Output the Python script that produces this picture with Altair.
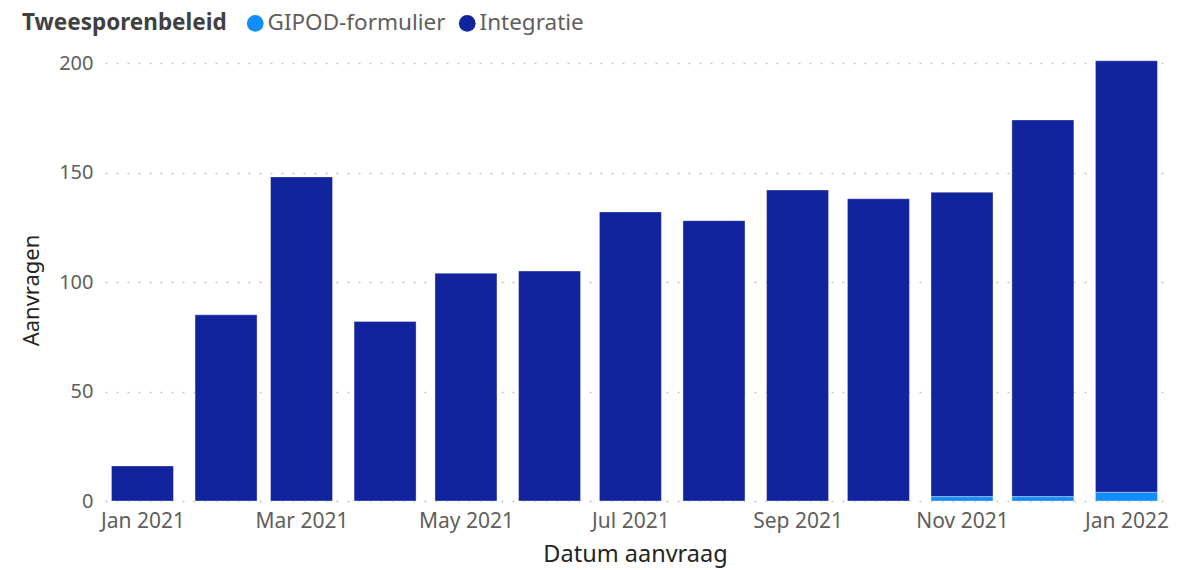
import altair as alt
import pandas as pd

# Data
maanden = ["2021-01-16", "2021-02-16", "2021-03-16", "2021-04-16", "2021-05-16",
           "2021-06-16", "2021-07-16", "2021-08-16", "2021-09-16", "2021-10-16",
           "2021-11-16", "2021-12-16", "2022-01-16"]
integratie = [16, 85, 148, 82, 104, 105, 132, 128, 142, 138, 139, 172, 197]
gipod = [0, 0, 0, 0, 0, 0, 0, 0, 0, 0, 2, 2, 4]
reeksen = ["GIPOD-formulier", "Integratie"]
kleuren = ["#118DFF", "#12239E"]
tick_maanden = ["2021-01-16", "2021-03-16", "2021-05-16", "2021-07-16",
                "2021-09-16", "2021-11-16", "2022-01-16"]

rows = []
for d, g, i in zip(maanden, gipod, integratie):
    rows.append({"datum": d, "reeks": "GIPOD-formulier", "aanvragen": g, "volgorde": 0})
    rows.append({"datum": d, "reeks": "Integratie", "aanvragen": i, "volgorde": 1})
df = pd.DataFrame(rows)


def ms(s):
    return int(pd.Timestamp(s, tz="UTC").timestamp() * 1000)


day = 86400000
x_domain = [ms(maanden[0]) - int(13.9 * day), ms(maanden[-1]) + int(14.3 * day)]
tick_values = [ms(t) for t in tick_maanden]

FONT = "Noto Sans"
GREY = "#605E5C"

chart = alt.Chart(df).mark_bar(size=62, stroke="#ffffff", strokeOpacity=0.35, strokeWidth=1).encode(
    x=alt.X("datum:T",
            scale=alt.Scale(type="utc", domain=x_domain, padding=0),
            axis=alt.Axis(values=tick_values, format="%b %Y", grid=False, ticks=False,
                          domain=False, labelFontSize=21, labelColor=GREY, labelPadding=9,
                          labelFont=FONT, titleFont=FONT, titleFontSize=23.5,
                          titleFontWeight="normal", titleColor="#252423", titlePadding=11,
                          labelOverlap=False),
            title="Datum aanvraag"),
    y=alt.Y("aanvragen:Q",
            stack="zero",
            scale=alt.Scale(domain=[0, 200], nice=False),
            axis=alt.Axis(values=[0, 50, 100, 150, 200], grid=True, gridColor="#C8C6C4",
                          gridDash=[2, 9], gridWidth=1.5, ticks=False, domain=False,
                          labelFontSize=20, labelColor=GREY, labelPadding=12,
                          labelFont=FONT, titleFont=FONT, titleFontSize=22,
                          titleFontWeight="normal", titleColor="#252423", titlePadding=15,
                          titleY=227),
            title="Aanvragen"),
    color=alt.Color("reeks:N",
                    scale=alt.Scale(domain=reeksen, range=kleuren),
                    legend=alt.Legend(title="Tweesporenbeleid", orient="none",
                                      direction="horizontal", titleOrient="left",
                                      legendX=-83, legendY=-51,
                                      titleFont=FONT, titleFontSize=22.5, titleFontWeight="bold",
                                      titleColor="#404040", titlePadding=17, titleLimit=400,
                                      labelFont=FONT, labelFontSize=22.5, labelColor=GREY,
                                      labelLimit=400,
                                      symbolType="circle", symbolSize=280, symbolStrokeWidth=0,
                                      labelOffset=1, columnPadding=10)),
    order=alt.Order("volgorde:Q", sort="ascending"),
).properties(
    width=1060,
    height=438,
    autosize=alt.AutoSizeParams(type="none"),
    padding={"left": 97, "top": 55, "right": 10, "bottom": 70},
).configure(font=FONT, background="white").configure_view(stroke=None)

chart.save("out.html", embed_options={"renderer": "svg", "actions": False})
